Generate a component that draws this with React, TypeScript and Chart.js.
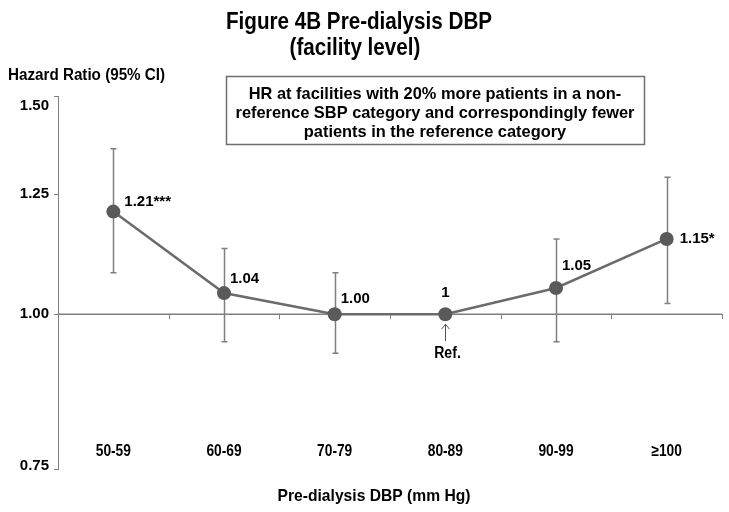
import React, { useEffect, useRef } from "react";
import { Chart, registerables } from "chart.js";

Chart.register(...registerables);

const categories = ["50-59", "60-69", "70-79", "80-89", "90-99", "≥100"];
const hazardRatios = [1.21, 1.04, 1.0, 1.0, 1.05, 1.15];
const ciLower: (number | null)[] = [1.08, 0.95, 0.93, null, 0.95, 1.02];
const ciUpper: (number | null)[] = [1.36, 1.13, 1.08, null, 1.15, 1.29];
const pointLabels = ["1.21***", "1.04", "1.00", "1", "1.05", "1.15*"];
const yTickValues = [0.75, 1.0, 1.25, 1.5];
const referenceIndex = 3;

const titleLines = ["Figure 4B Pre-dialysis DBP", "(facility level)"];
const yAxisTitle = "Hazard Ratio (95% CI)";
const xAxisTitle = "Pre-dialysis DBP (mm Hg)";
const noteLines = [
  "HR at facilities with 20% more patients in a non-",
  "reference SBP category and correspondingly fewer",
  "patients in the reference category",
];

const SANS = "'Liberation Sans', Arial, Helvetica, sans-serif";
const GREY = "#7f7f7f";

// label offsets relative to each point: [dx, dy, align]
const labelPlacement: [number, number, CanvasTextAlign][] = [
  [11, -10, "left"],
  [6, -14, "left"],
  [6, -15, "left"],
  [0, -21, "center"],
  [6, -22, "left"],
  [13, 0, "left"],
];

function narrowText(ctx: CanvasRenderingContext2D, text: string, cx: number, cy: number, sx: number) {
  ctx.save();
  ctx.translate(cx, cy);
  ctx.scale(sx, 1);
  ctx.fillText(text, 0, 0);
  ctx.restore();
}

const decorPlugin = {
  id: "decor",
  beforeDatasetsDraw(chart: any) {
    const { ctx, scales, chartArea } = chart;
    const x = scales.x;
    const y = scales.y;
    ctx.save();
    const y1 = y.getPixelForValue(1);
    ctx.strokeStyle = GREY;
    ctx.lineWidth = 1.5;
    ctx.beginPath();
    ctx.moveTo(chartArea.left, y1);
    ctx.lineTo(chartArea.right, y1);
    ctx.stroke();
    ctx.lineWidth = 1;
    const step = x.getPixelForValue(1) - x.getPixelForValue(0);
    for (let i = 0; i < categories.length; i++) {
      const bx = Math.round(x.getPixelForValue(i) + step / 2) + 0.5;
      ctx.beginPath();
      ctx.moveTo(bx, y1);
      ctx.lineTo(bx, y1 + 5);
      ctx.stroke();
    }
    ctx.strokeStyle = GREY;
    ctx.lineWidth = 1.5;
    for (let i = 0; i < categories.length; i++) {
      const lo = ciLower[i];
      const hi = ciUpper[i];
      if (lo == null || hi == null) continue;
      const px = Math.round(x.getPixelForValue(i)) + 0.5;
      const yl = y.getPixelForValue(lo);
      const yh = y.getPixelForValue(hi);
      ctx.beginPath();
      ctx.moveTo(px, yl);
      ctx.lineTo(px, yh);
      ctx.moveTo(px - 3, yl);
      ctx.lineTo(px + 3, yl);
      ctx.moveTo(px - 3, yh);
      ctx.lineTo(px + 3, yh);
      ctx.stroke();
    }
    ctx.restore();
  },
  afterDatasetsDraw(chart: any) {
    const { ctx, scales, chartArea } = chart;
    const x = scales.x;
    const y = scales.y;
    ctx.save();
    ctx.fillStyle = "#000";
    ctx.textBaseline = "middle";

    // title
    ctx.textAlign = "center";
    ctx.font = `bold 24px ${SANS}`;
    narrowText(ctx, titleLines[0], 359, 22, 0.86);
    narrowText(ctx, titleLines[1], 355, 48, 0.86);

    // y axis title
    ctx.textAlign = "left";
    ctx.font = `bold 16px ${SANS}`;
    narrowText(ctx, yAxisTitle, 8, 76, 0.95);

    // y tick labels
    ctx.textAlign = "right";
    ctx.font = `bold 15px ${SANS}`;
    for (const v of yTickValues) {
      const py = Math.max(y.getPixelForValue(v), chartArea.top + 10);
      ctx.fillText(v.toFixed(2), 49, Math.min(py, chartArea.bottom - 3));
    }

    // note box
    ctx.strokeStyle = "#6f6f6f";
    ctx.lineWidth = 1.5;
    ctx.strokeRect(226.5, 76.5, 418, 68);
    ctx.font = `bold 16.4px ${SANS}`;
    ctx.textAlign = "center";
    noteLines.forEach((t, k) => ctx.fillText(t, 435, 94 + k * 19));

    // point labels
    ctx.font = `bold 15px ${SANS}`;
    for (let i = 0; i < categories.length; i++) {
      const px = x.getPixelForValue(i);
      const py = y.getPixelForValue(hazardRatios[i]);
      const [dx, dy, al] = labelPlacement[i];
      ctx.textAlign = al;
      ctx.fillText(pointLabels[i], px + dx, py + dy);
    }

    // reference arrow
    const rx = Math.round(x.getPixelForValue(referenceIndex)) + 0.5;
    const ry = y.getPixelForValue(1);
    ctx.strokeStyle = "#555";
    ctx.lineWidth = 1;
    ctx.beginPath();
    ctx.moveTo(rx, ry + 27);
    ctx.lineTo(rx, ry + 10);
    ctx.moveTo(rx - 4, ry + 15);
    ctx.lineTo(rx, ry + 10);
    ctx.lineTo(rx + 4, ry + 15);
    ctx.stroke();
    ctx.textAlign = "center";
    ctx.font = `bold 16px ${SANS}`;
    narrowText(ctx, "Ref.", rx + 2, ry + 39, 0.88);

    // category labels
    ctx.font = `bold 16px ${SANS}`;
    for (let i = 0; i < categories.length; i++) {
      narrowText(ctx, categories[i], x.getPixelForValue(i), chartArea.bottom - 17, 0.86);
    }

    // x axis title
    ctx.font = `bold 17px ${SANS}`;
    narrowText(ctx, xAxisTitle, 374, 496, 0.92);
    ctx.restore();
  },
};

export default function App() {
  const ref = useRef<HTMLCanvasElement>(null);
  useEffect(() => {
    if (!ref.current) return;
    const chart = new Chart(ref.current, {
      type: "line",
      data: {
        labels: categories,
        datasets: [
          {
            data: hazardRatios,
            borderColor: "#6b6b6b",
            borderWidth: 2.5,
            backgroundColor: "#5a5a5a",
            pointBackgroundColor: "#5a5a5a",
            pointBorderColor: "#5a5a5a",
            pointRadius: 7,
            pointBorderWidth: 0,
            tension: 0,
          },
        ],
      },
      options: {
        animation: false,
        responsive: true,
        maintainAspectRatio: false,
        layout: { padding: { left: 0, right: 7, top: 96, bottom: 43 } },
        plugins: { legend: { display: false }, tooltip: { enabled: false }, title: { display: false } },
        scales: {
          x: {
            type: "category",
            display: false,
            offset: true,
          },
          y: {
            type: "logarithmic",
            min: 0.75,
            max: 1.5,
            afterFit(scale: any) {
              scale.width = 58;
            },
            afterBuildTicks(scale: any) {
              scale.ticks = yTickValues.map((v) => ({ value: v }));
            },
            border: { display: true, color: GREY, width: 1 },
            grid: { drawOnChartArea: false, drawTicks: true, tickLength: 4, color: GREY },
            ticks: {
              padding: 5,
              color: "#000",
              font: { family: SANS, weight: "bold", size: 14 },
              callback: () => "",
            },
          },
        },
      },
      plugins: [decorPlugin],
    });
    return () => chart.destroy();
  }, []);
  return (
    <div style={{ position: "absolute", left: 0, top: 0, width: 729, height: 512, background: "#fff" }}>
      <canvas ref={ref} />
    </div>
  );
}
